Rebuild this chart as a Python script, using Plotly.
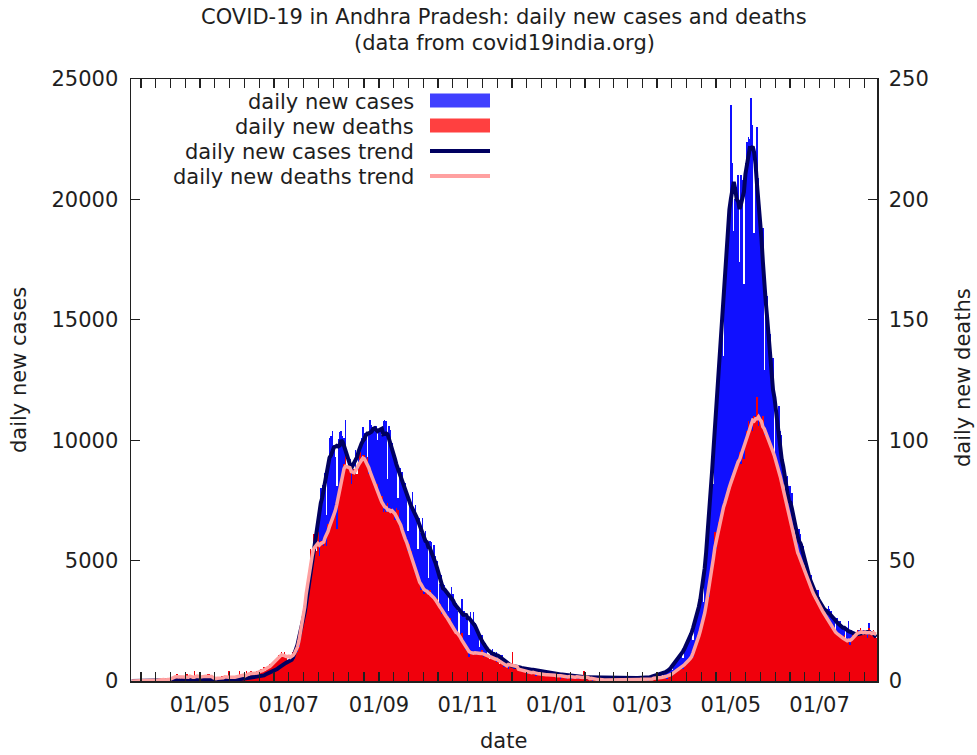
import pandas as pd
import plotly.graph_objects as go

# ---------------- data ----------------
start_date = "2020-03-15"

c_2020_03 = [1, 0, 0, 0, 1, 0, 1, 2, 0, 2, 1, 3, 3, 2, 1, 17, 23]
c_2020_04 = [67, 21, 30, 46, 34, 57, 20, 41, 15, 18, 12, 36, 40, 31, 23, 31, 43, 41, 44, 75,
             35, 56, 80, 62, 61, 81, 80, 82, 73, 60]
c_2020_05 = [62, 58, 67, 67, 60, 67, 56, 54, 43, 50, 38, 33, 36, 48, 57, 52, 57, 52, 68, 45,
             62, 45, 47, 66, 44, 54, 68, 33, 70, 98, 105]
c_2020_06 = [115, 180, 98, 141, 161, 210, 147, 216, 136, 147, 182, 207, 186, 222, 193, 351, 299,
             425, 376, 465, 439, 443, 462, 497, 553, 605, 796, 813, 793, 704]
c_2020_07 = [700, 845, 830, 760, 1050, 1250, 1500, 1800, 1900, 2300, 2700, 2900, 2600, 3500, 4100,
             4600, 5100, 5500, 6100, 5300, 6400, 7400, 8000, 8150, 7810, 8630, 6900, 8950, 10090,
             10170, 10380]
c_2020_08 = [9800, 9300, 8100, 10050, 10330, 10400, 10170, 10080, 10820, 7670, 8900, 9200, 8800,
             8940, 8730, 9600, 8400, 9650, 9740, 10100, 10540, 10280, 10300, 9200, 10200, 10830,
             10620, 10530, 10550, 10600, 10000]
c_2020_09 = [10370, 10390, 10200, 10780, 10830, 10790, 8370, 10600, 10420, 9900, 9500, 9300, 9000,
             7600, 8850, 8840, 8700, 8100, 8220, 7740, 6240, 7550, 7230, 7860, 7070, 7290, 6920,
             5490, 6750, 6130]
c_2020_10 = [6750, 5900, 6240, 5620, 4260, 5800, 5790, 5290, 5650, 5210, 5000, 3220, 4040, 4390,
             4040, 3970, 3680, 3620, 2920, 3500, 3890, 3620, 3350, 3240, 2900, 1920, 2920, 3390,
             2900, 2900, 2620]
c_2020_11 = [2620, 1920, 2850, 2480, 2850, 2410, 2240, 1900, 1400, 1730, 1900, 1600, 1590, 1410,
             1100, 750, 1240, 1320, 1220, 1120, 1220, 960, 620, 1080, 1090, 900, 800, 700, 650, 460]
c_2020_12 = [660, 680, 620, 660, 610, 620, 400, 520, 580, 530, 520, 500, 490, 310, 460, 530, 510,
             470, 480, 410, 280, 400, 400, 420, 350, 380, 330, 210, 340, 350, 330]
c_2021_01 = [300, 290, 240, 180, 280, 330, 270, 300, 230, 230, 160, 200, 220, 190, 170, 160, 160,
             100, 180, 180, 170, 160, 160, 150, 90, 170, 180, 130, 140, 160, 130]
c_2021_02 = [120, 130, 140, 110, 130, 120, 100, 70, 110, 120, 140, 110, 100, 100, 60, 90, 110, 120,
             130, 110, 100, 70, 120, 140, 130, 140, 130, 120]
c_2021_03 = [120, 110, 150, 130, 170, 150, 160, 140, 190, 220, 250, 280, 320, 280, 220, 300, 350,
             420, 470, 520, 550, 470, 700, 850, 950, 1050, 1100, 1150, 950, 1250, 1450]
c_2021_04 = [1600, 1800, 2000, 1900, 1700, 2300, 2700, 3000, 3200, 3400, 3700, 3300, 4400, 5200,
             6000, 6800, 8000, 8800, 8200, 10800, 11800, 12500, 13200, 14200, 15200, 13500, 17000,
             18000, 18500, 19500]
c_2021_05 = [23900, 21500, 18700, 20000, 20500, 21000, 17400, 21000, 20800, 16500, 21500, 22400,
             22600, 22500, 24200, 23100, 18600, 21400, 23000, 20900, 19000, 18200, 18800, 12900,
             16200, 16000, 13700, 14400, 13400, 13400, 8000]
c_2021_06 = [11300, 10400, 11400, 10400, 10200, 9000, 4900, 8100, 8500, 8100, 8100, 7800, 6800,
             4500, 6300, 6100, 6300, 6100, 5700, 5600, 3800, 4700, 4700, 4500, 4400, 4100, 3800,
             2600, 3800, 3800]
c_2021_07 = [3500, 3200, 3100, 2900, 2200, 3000, 3100, 3000, 2900, 2700, 2600, 1800, 2600, 2500,
             2500, 2300, 2300, 2100, 1600, 2200, 2500, 2000, 2100, 2000, 1900, 1400, 2100, 2100,
             2000, 2100, 2100]
c_2021_08 = [2100, 1500, 2000, 2400, 2100, 2000, 2000, 1900, 1400]

d_2020_03 = [0, 0, 0, 0, 0, 0, 0, 0, 0, 0, 0, 0, 0, 0, 0, 0, 0]
d_2020_04 = [0, 0, 1, 1, 0, 1, 1, 0, 0, 0, 1, 1, 2, 2, 3, 1, 2, 1, 1, 1, 2, 3, 2, 0, 1, 2, 4, 0, 2, 2]
d_2020_05 = [2, 2, 1, 2, 1, 3, 3, 2, 1, 1, 2, 1, 0, 1, 1, 2, 1, 1, 2, 1, 4, 0, 1, 2, 1, 1, 2, 4, 1,
             1, 2]
d_2020_06 = [2, 4, 3, 2, 4, 3, 3, 3, 4, 2, 3, 5, 5, 6, 4, 5, 5, 7, 6, 7, 8, 8, 9, 11, 10, 12, 11, 12,
             11, 8]
d_2020_07 = [8, 10, 11, 12, 9, 13, 12, 14, 17, 22, 30, 33, 30, 40, 44, 55, 52, 61, 56, 54, 62, 52,
             58, 57, 56, 60, 56, 65, 65, 65, 68]
d_2020_08 = [70, 72, 63, 75, 82, 83, 88, 90, 97, 89, 88, 89, 82, 87, 88, 86, 86, 88, 95, 92, 94, 94,
             92, 93, 86, 87, 84, 84, 81, 80, 82]
d_2020_09 = [76, 74, 77, 70, 71, 70, 74, 70, 72, 70, 70, 67, 72, 71, 64, 64, 63, 61, 58, 57, 54, 57,
             54, 50, 48, 44, 46, 42, 41, 38]
d_2020_10 = [40, 36, 38, 37, 36, 38, 36, 35, 34, 33, 34, 31, 32, 28, 29, 28, 27, 26, 25, 26, 22, 22,
             21, 21, 19, 19, 17, 20, 17, 14, 13]
d_2020_11 = [12, 10, 13, 12, 11, 12, 11, 12, 11, 12, 13, 10, 11, 11, 10, 9, 10, 11, 9, 10, 8, 9, 7,
             9, 8, 6, 6, 7, 5, 6]
d_2020_12 = [6, 12, 5, 6, 5, 4, 5, 5, 4, 4, 4, 3, 4, 5, 3, 4, 3, 2, 4, 4, 3, 2, 3, 2, 3, 3, 2, 3, 2,
             3, 2]
d_2021_01 = [2, 3, 2, 1, 3, 2, 2, 1, 2, 2, 1, 2, 3, 1, 2, 1, 1, 2, 1, 4, 0, 1, 2, 2, 1, 0, 1, 1, 0,
             1, 0]
d_2021_02 = [1, 0, 1, 0, 0, 1, 0, 1, 1, 0, 0, 1, 0, 0, 0, 1, 0, 1, 0, 0, 1, 0, 1, 0, 1, 0, 1, 1]
d_2021_03 = [0, 1, 1, 1, 0, 1, 2, 1, 1, 1, 0, 2, 1, 2, 1, 2, 2, 1, 2, 3, 3, 2, 4, 4, 4, 5, 5, 6, 5,
             7, 8]
d_2021_04 = [7, 9, 10, 9, 10, 12, 14, 18, 20, 21, 22, 24, 27, 30, 38, 35, 45, 47, 50, 62, 55, 63,
             66, 65, 70, 73, 75, 77, 80, 79]
d_2021_05 = [82, 84, 86, 88, 90, 92, 95, 90, 96, 92, 101, 104, 108, 103, 106, 104, 110, 109, 118,
             106, 109, 106, 110, 102, 104, 102, 100, 98, 96, 96, 94]
d_2021_06 = [92, 90, 88, 85, 82, 80, 77, 74, 72, 70, 66, 64, 58, 57, 55, 52, 53, 50, 48, 48, 45, 44,
             42, 40, 38, 38, 37, 34, 33, 32]
d_2021_07 = [31, 30, 30, 28, 27, 26, 25, 24, 22, 21, 21, 20, 20, 19, 19, 18, 17, 19, 17, 16, 16, 15,
             17, 19, 18, 20, 21, 20, 22, 19, 20]
d_2021_08 = [21, 20, 18, 22, 20, 19, 21, 20, 18]

case_months = [c_2020_03, c_2020_04, c_2020_05, c_2020_06, c_2020_07, c_2020_08, c_2020_09,
               c_2020_10, c_2020_11, c_2020_12, c_2021_01, c_2021_02, c_2021_03, c_2021_04,
               c_2021_05, c_2021_06, c_2021_07, c_2021_08]
death_months = [d_2020_03, d_2020_04, d_2020_05, d_2020_06, d_2020_07, d_2020_08, d_2020_09,
                d_2020_10, d_2020_11, d_2020_12, d_2021_01, d_2021_02, d_2021_03, d_2021_04,
                d_2021_05, d_2021_06, d_2021_07, d_2021_08]

cases = [v for m in case_months for v in m]
deaths = [v for m in death_months for v in m]
dates = pd.date_range(start_date, periods=len(cases), freq="D")

# 7-day centred trend
cases_trend = pd.Series(cases).rolling(7, center=True, min_periods=1).mean()
deaths_trend = pd.Series(deaths).rolling(7, center=True, min_periods=1).mean()

major_ticks = pd.date_range("2020-03-01", "2021-09-01", freq="2MS")
minor_ticks = []
for a, b in zip(major_ticks[:-1], major_ticks[1:]):
    for i in range(1, 6):
        minor_ticks.append(a + (b - a) * i / 6)

# ---------------- style ----------------
FONT = "DejaVu Sans"
TXT = "#1e1e1e"
AX = "#202020"
BLUE_BAR = "rgb(16,16,255)"
RED_BAR = "rgb(240,0,12)"
BLUE_KEY = "rgb(64,64,255)"
RED_KEY = "rgb(255,64,64)"
NAVY = "rgb(0,0,96)"
PINK = "rgb(255,160,160)"
FS = 21

L, R, T, B = 131, 877, 79, 681          # plot area in page pixels
W, H = 977, 755


def px(xp):
    return (xp - L) / (R - L)


def py(yp):
    return (B - yp) / (B - T)


day = 86400000
x0 = dates[0] - pd.Timedelta(hours=12)
x1 = dates[-1] + pd.Timedelta(hours=12)

fig = go.Figure()
fig.add_trace(go.Bar(x=dates, y=cases, width=day, yaxis="y",
                     marker=dict(color=BLUE_BAR, line=dict(width=0)),
                     name="daily new cases", showlegend=False))
fig.add_trace(go.Bar(x=dates, y=deaths, width=day, yaxis="y2",
                     marker=dict(color=RED_BAR, line=dict(width=0)),
                     name="daily new deaths", showlegend=False))
fig.add_trace(go.Scatter(x=dates, y=cases_trend, yaxis="y3", mode="lines",
                         line=dict(color=NAVY, width=4),
                         name="daily new cases trend", showlegend=False))
fig.add_trace(go.Scatter(x=dates, y=deaths_trend, yaxis="y4", mode="lines",
                         line=dict(color=PINK, width=3.5),
                         name="daily new deaths trend", showlegend=False))

axis_common = dict(showgrid=False, zeroline=False, showline=True, linecolor=AX, linewidth=1.5,
                   ticks="inside", ticklen=9, tickwidth=1.3, tickcolor=AX,
                   tickfont=dict(family=FONT, size=FS, color=TXT))

fig.update_layout(
    width=W, height=H,
    margin=dict(l=L, r=W - R, t=T, b=H - B, pad=0),
    paper_bgcolor="white", plot_bgcolor="white",
    barmode="overlay", bargap=0,
    font=dict(family=FONT, size=FS, color=TXT),
    xaxis=dict(axis_common, type="date", range=[x0, x1],
               tickvals=list(major_ticks), tickformat="%d/%m", mirror="allticks",
               ticklabelstandoff=4,
               minor=dict(tickmode="array", tickvals=minor_ticks, ticks="inside",
                          ticklen=5, tickwidth=1.2, tickcolor=AX)),
    yaxis=dict(axis_common, range=[0, 25000], tick0=0, dtick=5000, tickformat="d",
               ticklabelstandoff=7),
    yaxis2=dict(axis_common, overlaying="y", side="right", range=[0, 250], tick0=0, dtick=50,
                tickformat="d", ticklabelstandoff=6),
    yaxis3=dict(overlaying="y", range=[0, 25000], visible=False),
    yaxis4=dict(overlaying="y", range=[0, 250], visible=False),
    showlegend=False,
)

ann = []
ann.append(dict(text="COVID-19 in Andhra Pradesh: daily new cases and deaths",
                x=px(504), y=py(17), xref="paper", yref="paper", showarrow=False,
                xanchor="center", yanchor="middle", font=dict(size=FS)))
ann.append(dict(text="(data from covid19india.org)",
                x=px(504), y=py(43), xref="paper", yref="paper", showarrow=False,
                xanchor="center", yanchor="middle", font=dict(size=FS)))
ann.append(dict(text="daily new cases", x=px(19), y=py(370), xref="paper", yref="paper",
                showarrow=False, textangle=-90, xanchor="center", yanchor="middle"))
ann.append(dict(text="daily new deaths", x=px(963), y=py(378), xref="paper", yref="paper",
                showarrow=False, textangle=-90, xanchor="center", yanchor="middle"))
ann.append(dict(text="date", x=px(503), y=py(741), xref="paper", yref="paper",
                showarrow=False, xanchor="center", yanchor="middle"))

key_labels = ["daily new cases", "daily new deaths", "daily new cases trend",
              "daily new deaths trend"]
key_rows = [102, 127, 152, 177]
for lab, row in zip(key_labels, key_rows):
    ann.append(dict(text=lab, x=px(416), y=py(row), xref="paper", yref="paper",
                    showarrow=False, xanchor="right", yanchor="middle"))
fig.update_layout(annotations=ann)

shapes = [
    dict(type="rect", xref="paper", yref="paper", x0=px(430), x1=px(490), y0=py(107.5),
         y1=py(93.5), fillcolor=BLUE_KEY, line=dict(width=0), layer="above"),
    dict(type="rect", xref="paper", yref="paper", x0=px(430), x1=px(490), y0=py(132.5),
         y1=py(118.5), fillcolor=RED_KEY, line=dict(width=0), layer="above"),
    dict(type="line", xref="paper", yref="paper", x0=px(430), x1=px(490), y0=py(151),
         y1=py(151), line=dict(color=NAVY, width=4), layer="above"),
    dict(type="line", xref="paper", yref="paper", x0=px(430), x1=px(490), y0=py(176),
         y1=py(176), line=dict(color=PINK, width=4), layer="above"),
]
fig.update_layout(shapes=shapes)

# remove the default 8px page margin so the figure sits at the window's top-left corner;
# no mode bar / hover, like the static reference image
fig.write_html("out.html", config={"displayModeBar": False, "staticPlot": True},
               post_script="document.body.style.margin='0px';")
